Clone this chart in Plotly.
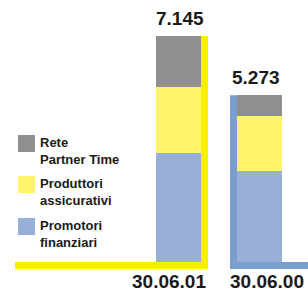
import plotly.graph_objects as go

categories = ["30.06.01", "30.06.00"]
promotori = [3446, 2870]
produttori = [2087, 1740]
rete = [1612, 663]
totals = [7145, 5273]
total_labels = ["7.145", "5.273"]
series_names = ["Promotori<br>finanziari", "Produttori<br>assicurativi", "Rete<br>Partner Time"]

W, H = 308, 293
FONT = "Liberation Sans, Arial, sans-serif"
C_GRAY = "#8f8f8f"
C_YEL = "#fef46a"
C_BLUE = "#98b0d8"
C_YEL_LINE = "#f8f000"
C_BLUE_LINE = "#7b9ed0"
C_TEXT = "#1a1a1a"

# pixel geometry -> axis units
PX_X = 81.0          # px per category step
X0_PX = 178.5        # px of first category
Y0_PX = 262.0        # px of zero line
PX_Y = 7145 / 226.0  # value per px
BW = 45 / PX_X
xr = [-X0_PX / PX_X, (W - X0_PX) / PX_X]
yr = [-(H - Y0_PX) * PX_Y, Y0_PX * PX_Y]

fig = go.Figure()
for vals, col, name in [(promotori, C_BLUE, series_names[0]),
                        (produttori, C_YEL, series_names[1]),
                        (rete, C_GRAY, series_names[2])]:
    fig.add_trace(go.Bar(x=categories, y=vals, name=name, marker=dict(color=col, line=dict(width=0)),
                         width=BW, showlegend=False, hoverinfo="skip"))

lw_x = 7 / PX_X
lw_y = 7 * PX_Y
shapes = [
    # yellow frame for 30.06.01
    dict(type="rect", xref="x", yref="y", x0=(15 - X0_PX) / PX_X, x1=BW / 2 + lw_x, y0=-lw_y, y1=0,
         fillcolor=C_YEL_LINE, line=dict(width=0)),
    dict(type="rect", xref="x", yref="y", x0=BW / 2, x1=BW / 2 + lw_x, y0=-lw_y, y1=totals[0],
         fillcolor=C_YEL_LINE, line=dict(width=0)),
    # blue frame for 30.06.00
    dict(type="rect", xref="x", yref="y", x0=1 - BW / 2 - lw_x, x1=xr[1] + 0.1, y0=-lw_y, y1=0,
         fillcolor=C_BLUE_LINE, line=dict(width=0)),
    dict(type="rect", xref="x", yref="y", x0=1 - BW / 2 - lw_x, x1=1 - BW / 2, y0=-lw_y, y1=totals[1],
         fillcolor=C_BLUE_LINE, line=dict(width=0)),
]

# legend (custom)
legend_items = [(series_names[2], C_GRAY, 135), (series_names[1], C_YEL, 176), (series_names[0], C_BLUE, 218)]
annotations = []
for name, col, top in legend_items:
    shapes.append(dict(type="rect", xref="paper", yref="paper", x0=18 / W, x1=35 / W,
                       y0=1 - (top + 17) / H, y1=1 - top / H, fillcolor=col, line=dict(width=0)))
    annotations.append(dict(xref="paper", yref="paper", x=38 / W, y=1 - (top - 2) / H, xanchor="left", yanchor="top",
                            text="<b>" + name + "</b>", showarrow=False, align="left",
                            font=dict(family=FONT, size=13, color=C_TEXT)))

# total labels
for i, (lab, xs) in enumerate(zip(total_labels, [1.5, -3.5])):
    annotations.append(dict(xref="x", yref="y", x=categories[i], y=totals[i], xshift=xs, yshift=5, yanchor="bottom",
                            text="<b>" + lab + "</b>", showarrow=False,
                            font=dict(family=FONT, size=19, color=C_TEXT)))
# category labels
for i, (cat, xs) in enumerate(zip(categories, [-9.5, 7.5])):
    annotations.append(dict(xref="x", yref="paper", x=cat, xshift=xs, y=0, yanchor="bottom", borderpad=0,
                            text="<b>" + cat + "</b>", showarrow=False,
                            font=dict(family=FONT, size=19, color=C_TEXT)))

fig.update_layout(
    width=W, height=H, margin=dict(l=0, r=0, t=0, b=0),
    paper_bgcolor="white", plot_bgcolor="white", barmode="stack",
    xaxis=dict(type="category", range=xr, visible=False, fixedrange=True),
    yaxis=dict(range=yr, visible=False, fixedrange=True),
    shapes=shapes, annotations=annotations,
)
fig.write_html("out.html", config={"displayModeBar": False},
               post_script="document.body.style.margin='0';document.body.style.overflow='hidden';")
